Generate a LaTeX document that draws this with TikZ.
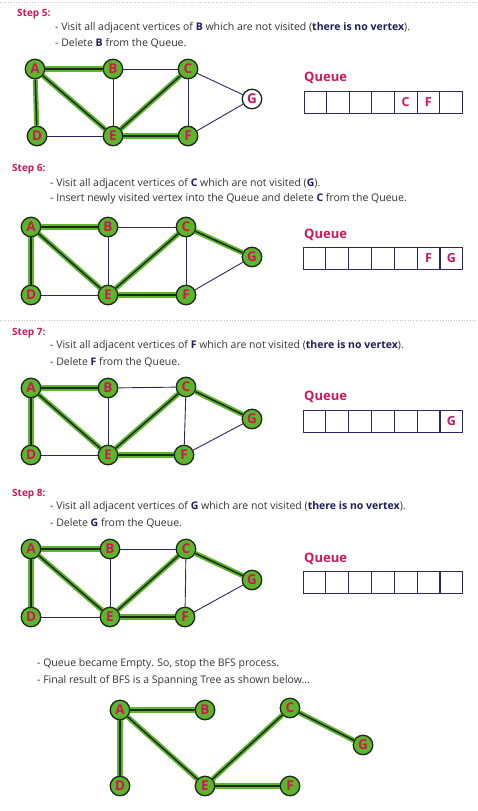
\documentclass[tikz,border=0pt]{standalone}
\usepackage{fontspec}
\setmainfont{Open Sans}
\definecolor{crim}{HTML}{D0155A}
\definecolor{navy}{HTML}{2A2A63}
\definecolor{dtext}{HTML}{333333}
\definecolor{bnavy}{HTML}{1E1E5A}
\definecolor{vgreen}{HTML}{5DB52B}
\definecolor{vdark}{HTML}{1C2A1A}
\newcommand\hb[1]{{\bfseries\color{bnavy}#1}}
\begin{document}
\begin{tikzpicture}[x=1pt,y=-1pt,
 vtx/.style={circle, draw=vdark, line width=1.3pt, fill=vgreen, minimum size=19.5pt, inner sep=0pt, font=\bfseries\fontsize{13.5}{13.5}\selectfont, text=crim},
 vtxwhite/.style={vtx, fill=white},
 edgeplain/.style={draw=navy, line width=0.9pt},
 edgetree/.style={draw=vgreen, double=vdark, line width=1.8pt, double distance=1.5pt},
 steplbl/.style={anchor=west, font=\bfseries\fontsize{10}{12}\selectfont, text=crim, inner sep=0pt},
 bodytxt/.style={anchor=west, font=\fontsize{10.5}{12}\selectfont, text=dtext, inner sep=0pt},
 qlbl/.style={anchor=west, font=\bfseries\fontsize{13}{14}\selectfont, text=crim, inner sep=0pt},
 qcell/.style={draw=navy, line width=1pt, minimum width=22.6pt, minimum height=22pt, inner sep=0pt, outer sep=0pt, font=\bfseries\fontsize{12.5}{12.5}\selectfont, text=crim, anchor=west},
 sepline/.style={draw=gray!45, line width=0.7pt, dotted}
]
\useasboundingbox (0,0) rectangle (477,811);
\fill[white] (0,0) rectangle (477,811);
% separators
\coordinate (sepAl) at (0,2); \coordinate (sepAr) at (477,2);
\coordinate (sepBl) at (0,320); \coordinate (sepBr) at (477,320);
\draw[sepline] (sepAl) -- (sepAr);
\draw[sepline] (sepBl) -- (sepBr);

% ---------------- Step 5
\node[steplbl] (t5) at (17,14) {Step 5:};
\node[bodytxt] (t5a) at (55,28) {- Visit all adjacent vertices of \hb{B} which are not visited (\hb{there is no vertex}).};
\node[bodytxt] (t5b) at (55,43) {- Delete \hb{B} from the Queue.};
\node[vtx] (a5) at (35,69) {A};
\node[vtx] (b5) at (113,69) {B};
\node[vtx] (c5) at (188,69) {C};
\node[vtxwhite] (g5) at (252,99) {G};
\node[vtx] (d5) at (37,136) {D};
\node[vtx] (e5) at (113,136) {E};
\node[vtx] (f5) at (188,136) {F};
\draw[edgeplain] (b5) -- (e5);
\draw[edgeplain] (b5) -- (c5);
\draw[edgeplain] (c5) -- (f5);
\draw[edgeplain] (c5) -- (g5);
\draw[edgeplain] (d5) -- (e5);
\draw[edgeplain] (f5) -- (g5);
\draw[edgetree] (a5) -- (b5);
\draw[edgetree] (a5) -- (d5);
\draw[edgetree] (a5) -- (e5);
\draw[edgetree] (e5) -- (c5);
\draw[edgetree] (e5) -- (f5);
\node[qlbl] (ql5) at (304,78) {Queue};
\foreach \i/\t in {1/,2/,3/,4/,5/C,6/F,7/}
  \node[qcell] (q5\i) at ({304+22.6*(\i-1)},102) {\t};

% ---------------- Step 6
\node[steplbl] (t6) at (12,169) {Step 6:};
\node[bodytxt] (t6a) at (50,184) {- Visit all adjacent vertices of \hb{C} which are not visited (\hb{G}).};
\node[bodytxt] (t6b) at (50,199) {- Insert newly visited vertex into the Queue and delete \hb{C} from the Queue.};
\node[vtx] (a6) at (31,227) {A};
\node[vtx] (b6) at (108,227) {B};
\node[vtx] (c6) at (186,227) {C};
\node[vtx] (g6) at (252,257) {G};
\node[vtx] (d6) at (31,295) {D};
\node[vtx] (e6) at (108,295) {E};
\node[vtx] (f6) at (186,295) {F};
\draw[edgeplain] (b6) -- (e6);
\draw[edgeplain] (b6) -- (c6);
\draw[edgeplain] (c6) -- (f6);
\draw[edgeplain] (d6) -- (e6);
\draw[edgeplain] (f6) -- (g6);
\draw[edgetree] (a6) -- (b6);
\draw[edgetree] (a6) -- (d6);
\draw[edgetree] (a6) -- (e6);
\draw[edgetree] (e6) -- (c6);
\draw[edgetree] (e6) -- (f6);
\draw[edgetree] (c6) -- (g6);
\node[qlbl] (ql6) at (304,235) {Queue};
\foreach \i/\t in {1/,2/,3/,4/,5/,6/F,7/G}
  \node[qcell] (q6\i) at ({303+22.85*(\i-1)},258.5) {\t};

% ---------------- Step 7
\node[steplbl] (t7) at (12,333) {Step 7:};
\node[bodytxt] (t7a) at (50,346) {- Visit all adjacent vertices of \hb{F} which are not visited (\hb{there is no vertex}).};
\node[bodytxt] (t7b) at (50,362) {- Delete \hb{F} from the Queue.};
\node[vtx] (a7) at (31,388) {A};
\node[vtx] (b7) at (108,388) {B};
\node[vtx] (c7) at (186,387) {C};
\node[vtx] (g7) at (252,419) {G};
\node[vtx] (d7) at (31,455) {D};
\node[vtx] (e7) at (108,455) {E};
\node[vtx] (f7) at (184,455) {F};
\draw[edgeplain] (b7) -- (e7);
\draw[edgeplain] (b7) -- (c7);
\draw[edgeplain] (c7) -- (f7);
\draw[edgeplain] (d7) -- (e7);
\draw[edgeplain] (f7) -- (g7);
\draw[edgetree] (a7) -- (b7);
\draw[edgetree] (a7) -- (d7);
\draw[edgetree] (a7) -- (e7);
\draw[edgetree] (e7) -- (c7);
\draw[edgetree] (e7) -- (f7);
\draw[edgetree] (c7) -- (g7);
\node[qlbl] (ql7) at (304,397) {Queue};
\foreach \i/\t in {1/,2/,3/,4/,5/,6/,7/G}
  \node[qcell] (q7\i) at ({303+22.85*(\i-1)},421) {\t};

% ---------------- Step 8
\node[steplbl] (t8) at (12,494) {Step 8:};
\node[bodytxt] (t8a) at (50,507) {- Visit all adjacent vertices of \hb{G} which are not visited (\hb{there is no vertex}).};
\node[bodytxt] (t8b) at (50,523) {- Delete \hb{G} from the Queue.};
\node[vtx] (a8) at (31,549) {A};
\node[vtx] (b8) at (110,549) {B};
\node[vtx] (c8) at (186,549) {C};
\node[vtx] (g8) at (252,580) {G};
\node[vtx] (d8) at (31,617) {D};
\node[vtx] (e8) at (110,617) {E};
\node[vtx] (f8) at (185,617) {F};
\draw[edgeplain] (b8) -- (e8);
\draw[edgeplain] (b8) -- (c8);
\draw[edgeplain] (c8) -- (f8);
\draw[edgeplain] (d8) -- (e8);
\draw[edgeplain] (f8) -- (g8);
\draw[edgetree] (a8) -- (b8);
\draw[edgetree] (a8) -- (d8);
\draw[edgetree] (a8) -- (e8);
\draw[edgetree] (e8) -- (c8);
\draw[edgetree] (e8) -- (f8);
\draw[edgetree] (c8) -- (g8);
\node[qlbl] (ql8) at (304,559) {Queue};
\foreach \i/\t in {1/,2/,3/,4/,5/,6/,7/}
  \node[qcell] (q8\i) at ({303+22.85*(\i-1)},582.5) {\t};

% ---------------- Final
\node[bodytxt] (tfa) at (37,664) {- Queue became Empty. So, stop the BFS process.};
\node[bodytxt] (tfb) at (37,681) {- Final result of BFS is a Spanning Tree as shown below...};
\node[vtx] (af) at (120,710) {A};
\node[vtx] (bf) at (205,710) {B};
\node[vtx] (cf) at (290,708) {C};
\node[vtx] (gf) at (363,745) {G};
\node[vtx] (df) at (120,786) {D};
\node[vtx] (ef) at (205,786) {E};
\node[vtx] (ff) at (290,786) {F};
\draw[edgetree] (af) -- (bf);
\draw[edgetree] (af) -- (df);
\draw[edgetree] (af) -- (ef);
\draw[edgetree] (ef) -- (cf);
\draw[edgetree] (ef) -- (ff);
\draw[edgetree] (cf) -- (gf);
\end{tikzpicture}
\end{document}
